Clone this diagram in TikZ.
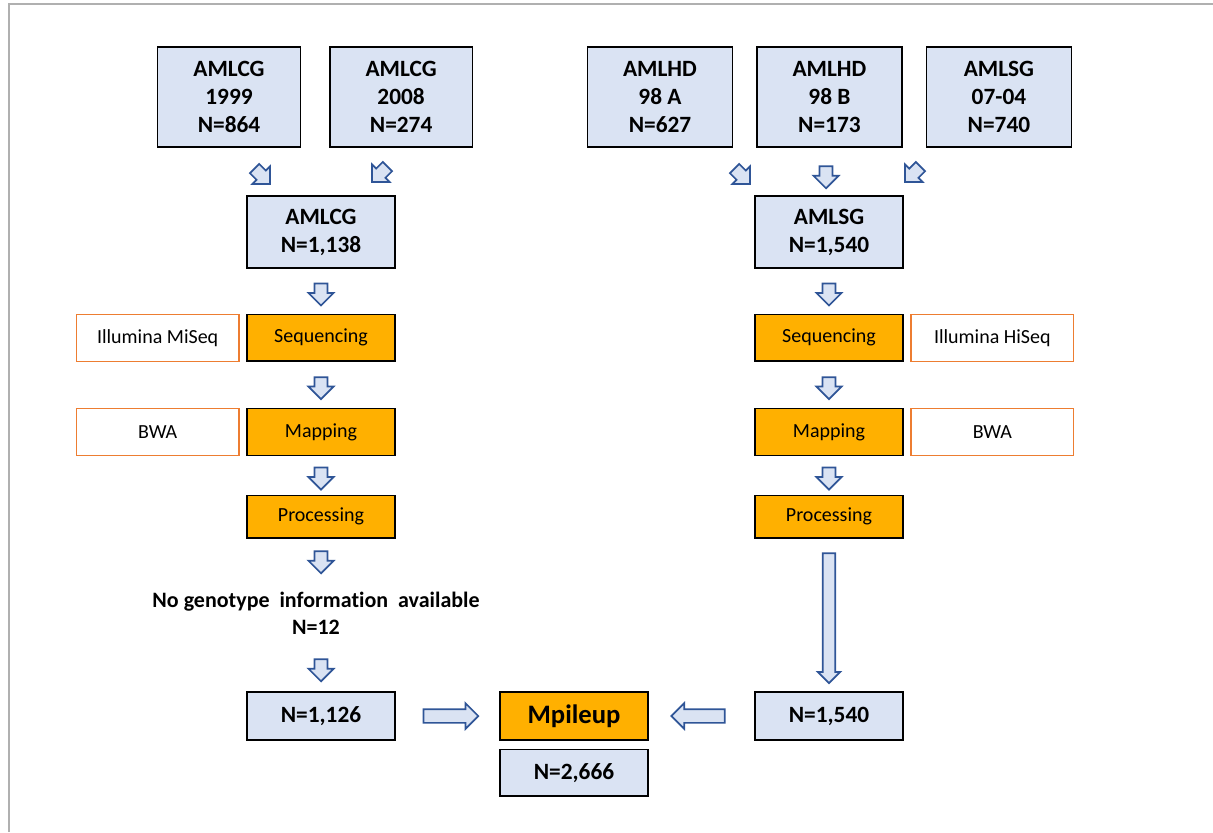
\documentclass[tikz,border=0pt]{standalone}
\usepackage{fontspec}
\setmainfont{Carlito}[Ligatures=NoCommon]
\usetikzlibrary{positioning,calc,shapes.arrows}
\definecolor{boxblue}{HTML}{DAE3F3}
\definecolor{steporange}{HTML}{FFB000}
\definecolor{tooledge}{HTML}{ED7D31}
\definecolor{arrowblue}{HTML}{2F5597}
\definecolor{framegrey}{HTML}{B0B0B0}

\begin{document}
\begin{tikzpicture}[x=0.75pt,y=-0.75pt,
	cohort/.style={rectangle,draw=black,line width=1.1pt,fill=boxblue,align=center,inner sep=0pt,
		font=\fontsize{17.5}{21}\selectfont\bfseries},
	stepbox/.style={rectangle,draw=black,line width=1.1pt,fill=steporange,inner sep=0pt,
		minimum width=111pt,minimum height=35pt,font=\fontsize{15}{18}\selectfont},
	toolbox/.style={rectangle,draw=tooledge,line width=0.9pt,fill=white,inner sep=0pt,
		minimum width=122pt,minimum height=35pt,font=\fontsize{15}{18}\selectfont},
	flow/.style={single arrow,draw=arrowblue,fill=boxblue,line width=1.3pt,inner sep=0pt,
		text height=8.5pt,text depth=0pt,single arrow head extend=4.5pt,minimum height=16.5pt},
	]
\useasboundingbox (0,0) rectangle (1213,832);
\draw[framegrey,line width=1.5pt] (9,832) -- (9,4) -- (1213,4);

% cohorts
\node[cohort,minimum width=107pt,minimum height=75pt] (lcg99) at (229,97) {AMLCG\\1999\\N=864};
\node[cohort,minimum width=107pt,minimum height=75pt,right=21pt of lcg99] (lcg08) {AMLCG\\2008\\N=274};
\node[cohort,minimum width=109pt,minimum height=75pt] (hdA) at (660,97) {AMLHD\\98 A\\N=627};
\node[cohort,minimum width=109pt,minimum height=75pt,right=17pt of hdA] (hdB) {AMLHD\\98 B\\N=173};
\node[cohort,minimum width=109pt,minimum height=75pt,right=17pt of hdB] (sg0704) {AMLSG\\07-04\\N=740};

\node[cohort,minimum width=111pt,minimum height=54pt] (lcg) at (321,232) {AMLCG\\N=1,138};
\node[cohort,minimum width=111pt,minimum height=54pt] (sg) at (829,232) {AMLSG\\N=1,540};

% left pipeline
\node[stepbox,below=33.75pt of lcg] (seqL) {Sequencing};
\node[toolbox,left=5pt of seqL] (miseq) {Illumina MiSeq};
\node[stepbox,below=34.5pt of seqL] (mapL) {Mapping};
\node[toolbox,left=5pt of mapL] (bwaL) {BWA};
\node[stepbox,below=29pt of mapL,minimum height=32pt] (procL) {Processing};
\node[align=center,font=\fontsize{16.5}{20}\selectfont\bfseries] (nogeno) at (316,613)
	{No genotype\ \ information\ \ available\\N=12};
\node[cohort,minimum width=111pt,minimum height=36pt] (n1126) at (321,716) {N=1,126};

% right pipeline
\node[stepbox,below=33.75pt of sg] (seqR) {Sequencing};
\node[toolbox,right=5pt of seqR] (hiseq) {Illumina HiSeq};
\node[stepbox,below=34.5pt of seqR] (mapR) {Mapping};
\node[toolbox,right=5pt of mapR] (bwaR) {BWA};
\node[stepbox,below=29pt of mapR,minimum height=32pt] (procR) {Processing};
\node[cohort,minimum width=111pt,minimum height=36pt] (n1540) at (829,716) {N=1,540};

% merge
\node[stepbox,minimum height=36pt,font=\fontsize{20}{24}\selectfont\bfseries] (mpileup) at (574,716) {Mpileup};
\node[cohort,minimum width=111pt,minimum height=35pt,below=6pt of mpileup] (n2666) {N=2,666};

% block arrows
\node[flow,rotate=-45] (d1) at (260,174) {};
\node[flow,rotate=-135] (d2) at (382,172) {};
\node[flow,rotate=-45] (d3) at (740,174) {};
\node[flow,rotate=-90] (d4) at (826,174) {};
\node[flow,rotate=-135] (d5) at (915,172) {};
\node[flow,rotate=-90] at ($(lcg.south)!0.5!(seqL.north)$) {};
\node[flow,rotate=-90] at ($(seqL.south)!0.5!(mapL.north)$) {};
\node[flow,rotate=-90] at ($(mapL.south)!0.5!(procL.north)$) {};
\node[flow,rotate=-90] at (321,559) {};
\node[flow,rotate=-90] at (321,667) {};
\node[flow,rotate=-90] at ($(sg.south)!0.5!(seqR.north)$) {};
\node[flow,rotate=-90] at ($(seqR.south)!0.5!(mapR.north)$) {};
\node[flow,rotate=-90] at ($(mapR.south)!0.5!(procR.north)$) {};
\node[flow,rotate=-90,minimum height=97.5pt,text height=8pt,single arrow head extend=3.75pt]
	(long) at ($(procR.south)!0.5!(n1540.north)$) {};
\node[flow,minimum height=41pt,text height=9pt,single arrow head extend=4.5pt]
	at ($(n1126.east)!0.5!(mpileup.west)$) {};
\node[flow,rotate=180,minimum height=40pt,text height=9pt,single arrow head extend=4.5pt]
	at ($(mpileup.east)!0.5!(n1540.west)$) {};
\end{tikzpicture}
\end{document}
